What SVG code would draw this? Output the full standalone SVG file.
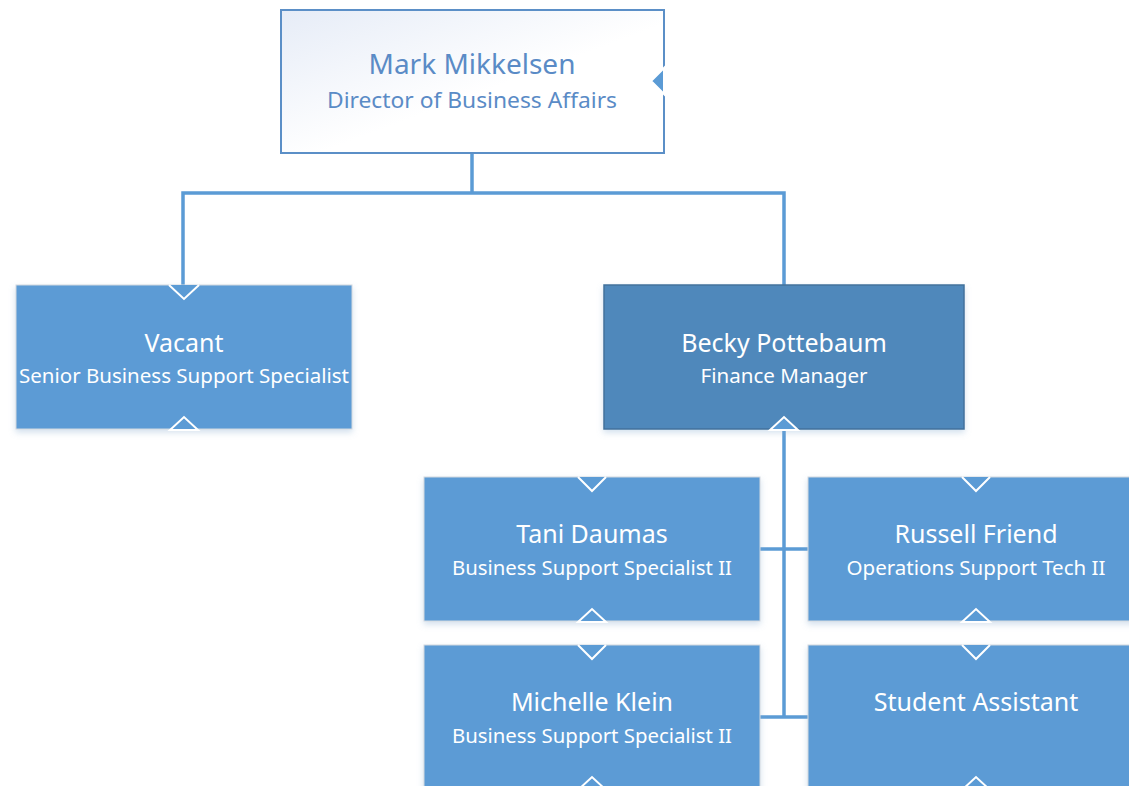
<svg xmlns="http://www.w3.org/2000/svg" width="1129" height="786" viewBox="0 0 1129 786">
<defs>
<linearGradient id="topg" x1="0" y1="0" x2="1" y2="1">
<stop offset="0" stop-color="#E6ECF7"/>
<stop offset="0.55" stop-color="#FFFFFF"/>
<stop offset="1" stop-color="#FFFFFF"/>
</linearGradient>
<filter id="sh" x="-5%" y="-5%" width="110%" height="120%">
<feDropShadow dx="0" dy="3" stdDeviation="3" flood-color="#7FA6CF" flood-opacity="0.35"/>
</filter>
</defs>
<style>
.box{fill:#5B9BD5;stroke:#D3D9E0;stroke-width:1}
.mgr{fill:#4F88BB;stroke:#41719C;stroke-width:1.5}
.conn{stroke:#5B9BD5;stroke-width:3.5;fill:none}
.chev{fill:#5B9BD5;stroke:#FFFFFF;stroke-width:2;stroke-linejoin:miter}
.nm{font-family:"Noto Sans",sans-serif;font-size:25px;fill:#FFFFFF;text-anchor:middle}
.ti{font-family:"Noto Sans",sans-serif;font-size:20px;fill:#FFFFFF;text-anchor:middle}
</style>
<rect width="1129" height="786" fill="#FFFFFF"/>
<g id="connectors">
<polyline class="conn" points="472,153 472,193"/>
<polyline class="conn" points="183,285 183,193 784,193 784,285"/>
<polyline class="conn" points="784,429 784,717"/>
<polyline class="conn" points="760,549 808,549"/>
<polyline class="conn" points="760,717 808,717"/>
</g>
<g id="n-mark">
<rect x="281" y="10" width="383" height="143" fill="url(#topg)" stroke="#5B8FC7" stroke-width="2"/>
<polygon points="664,68 651,81 664,94" fill="#5B9BD5" stroke="#FFFFFF" stroke-width="2"/>
<text x="472" y="74" font-family="Noto Sans, sans-serif" font-size="28" fill="#5A8BC6" text-anchor="middle">Mark Mikkelsen</text>
<text x="472" y="108" font-family="Noto Sans, sans-serif" font-size="22" fill="#5A8BC6" text-anchor="middle" textLength="290" lengthAdjust="spacingAndGlyphs">Director of Business Affairs</text>
</g>
<g id="n-vacant">
<rect class="box" x="16" y="285" width="336" height="144" filter="url(#sh)"/>
<polyline class="chev" points="169,285 184,299 199,285"/>
<polygon class="chev" points="170,430 184,417 198,430"/>
<text class="nm" x="184" y="352">Vacant</text>
<text class="ti" x="184" y="383" textLength="330" lengthAdjust="spacingAndGlyphs">Senior Business Support Specialist</text>
</g>
<g id="n-becky">
<rect class="mgr" x="604" y="285" width="360" height="144" filter="url(#sh)"/>
<polygon class="chev" points="770,430 784,417 798,430"/>
<text class="nm" x="784" y="352">Becky Pottebaum</text>
<text class="ti" x="784" y="383" textLength="167" lengthAdjust="spacingAndGlyphs">Finance Manager</text>
</g>
<g id="n-tani">
<rect class="box" x="424" y="477" width="336" height="144" filter="url(#sh)"/>
<polyline class="chev" points="578,477 592,491 606,477"/>
<polygon class="chev" points="578,622 592,609 606,622"/>
<text class="nm" x="592" y="543">Tani Daumas</text>
<text class="ti" x="592" y="575" textLength="280" lengthAdjust="spacingAndGlyphs">Business Support Specialist II</text>
</g>
<g id="n-russell">
<rect class="box" x="808" y="477" width="336" height="144" filter="url(#sh)"/>
<polyline class="chev" points="962,477 976,491 990,477"/>
<polygon class="chev" points="962,622 976,609 990,622"/>
<text class="nm" x="976" y="543">Russell Friend</text>
<text class="ti" x="976" y="575" textLength="259" lengthAdjust="spacingAndGlyphs">Operations Support Tech II</text>
</g>
<g id="n-michelle">
<rect class="box" x="424" y="645" width="336" height="144" filter="url(#sh)"/>
<polyline class="chev" points="578,645 592,659 606,645"/>
<polygon class="chev" points="578,790 592,777 606,790"/>
<text class="nm" x="592" y="711">Michelle Klein</text>
<text class="ti" x="592" y="743" textLength="280" lengthAdjust="spacingAndGlyphs">Business Support Specialist II</text>
</g>
<g id="n-student">
<rect class="box" x="808" y="645" width="336" height="144" filter="url(#sh)"/>
<polyline class="chev" points="962,645 976,659 990,645"/>
<polygon class="chev" points="962,790 976,777 990,790"/>
<text class="nm" x="976" y="711">Student Assistant</text>
</g>
</svg>
